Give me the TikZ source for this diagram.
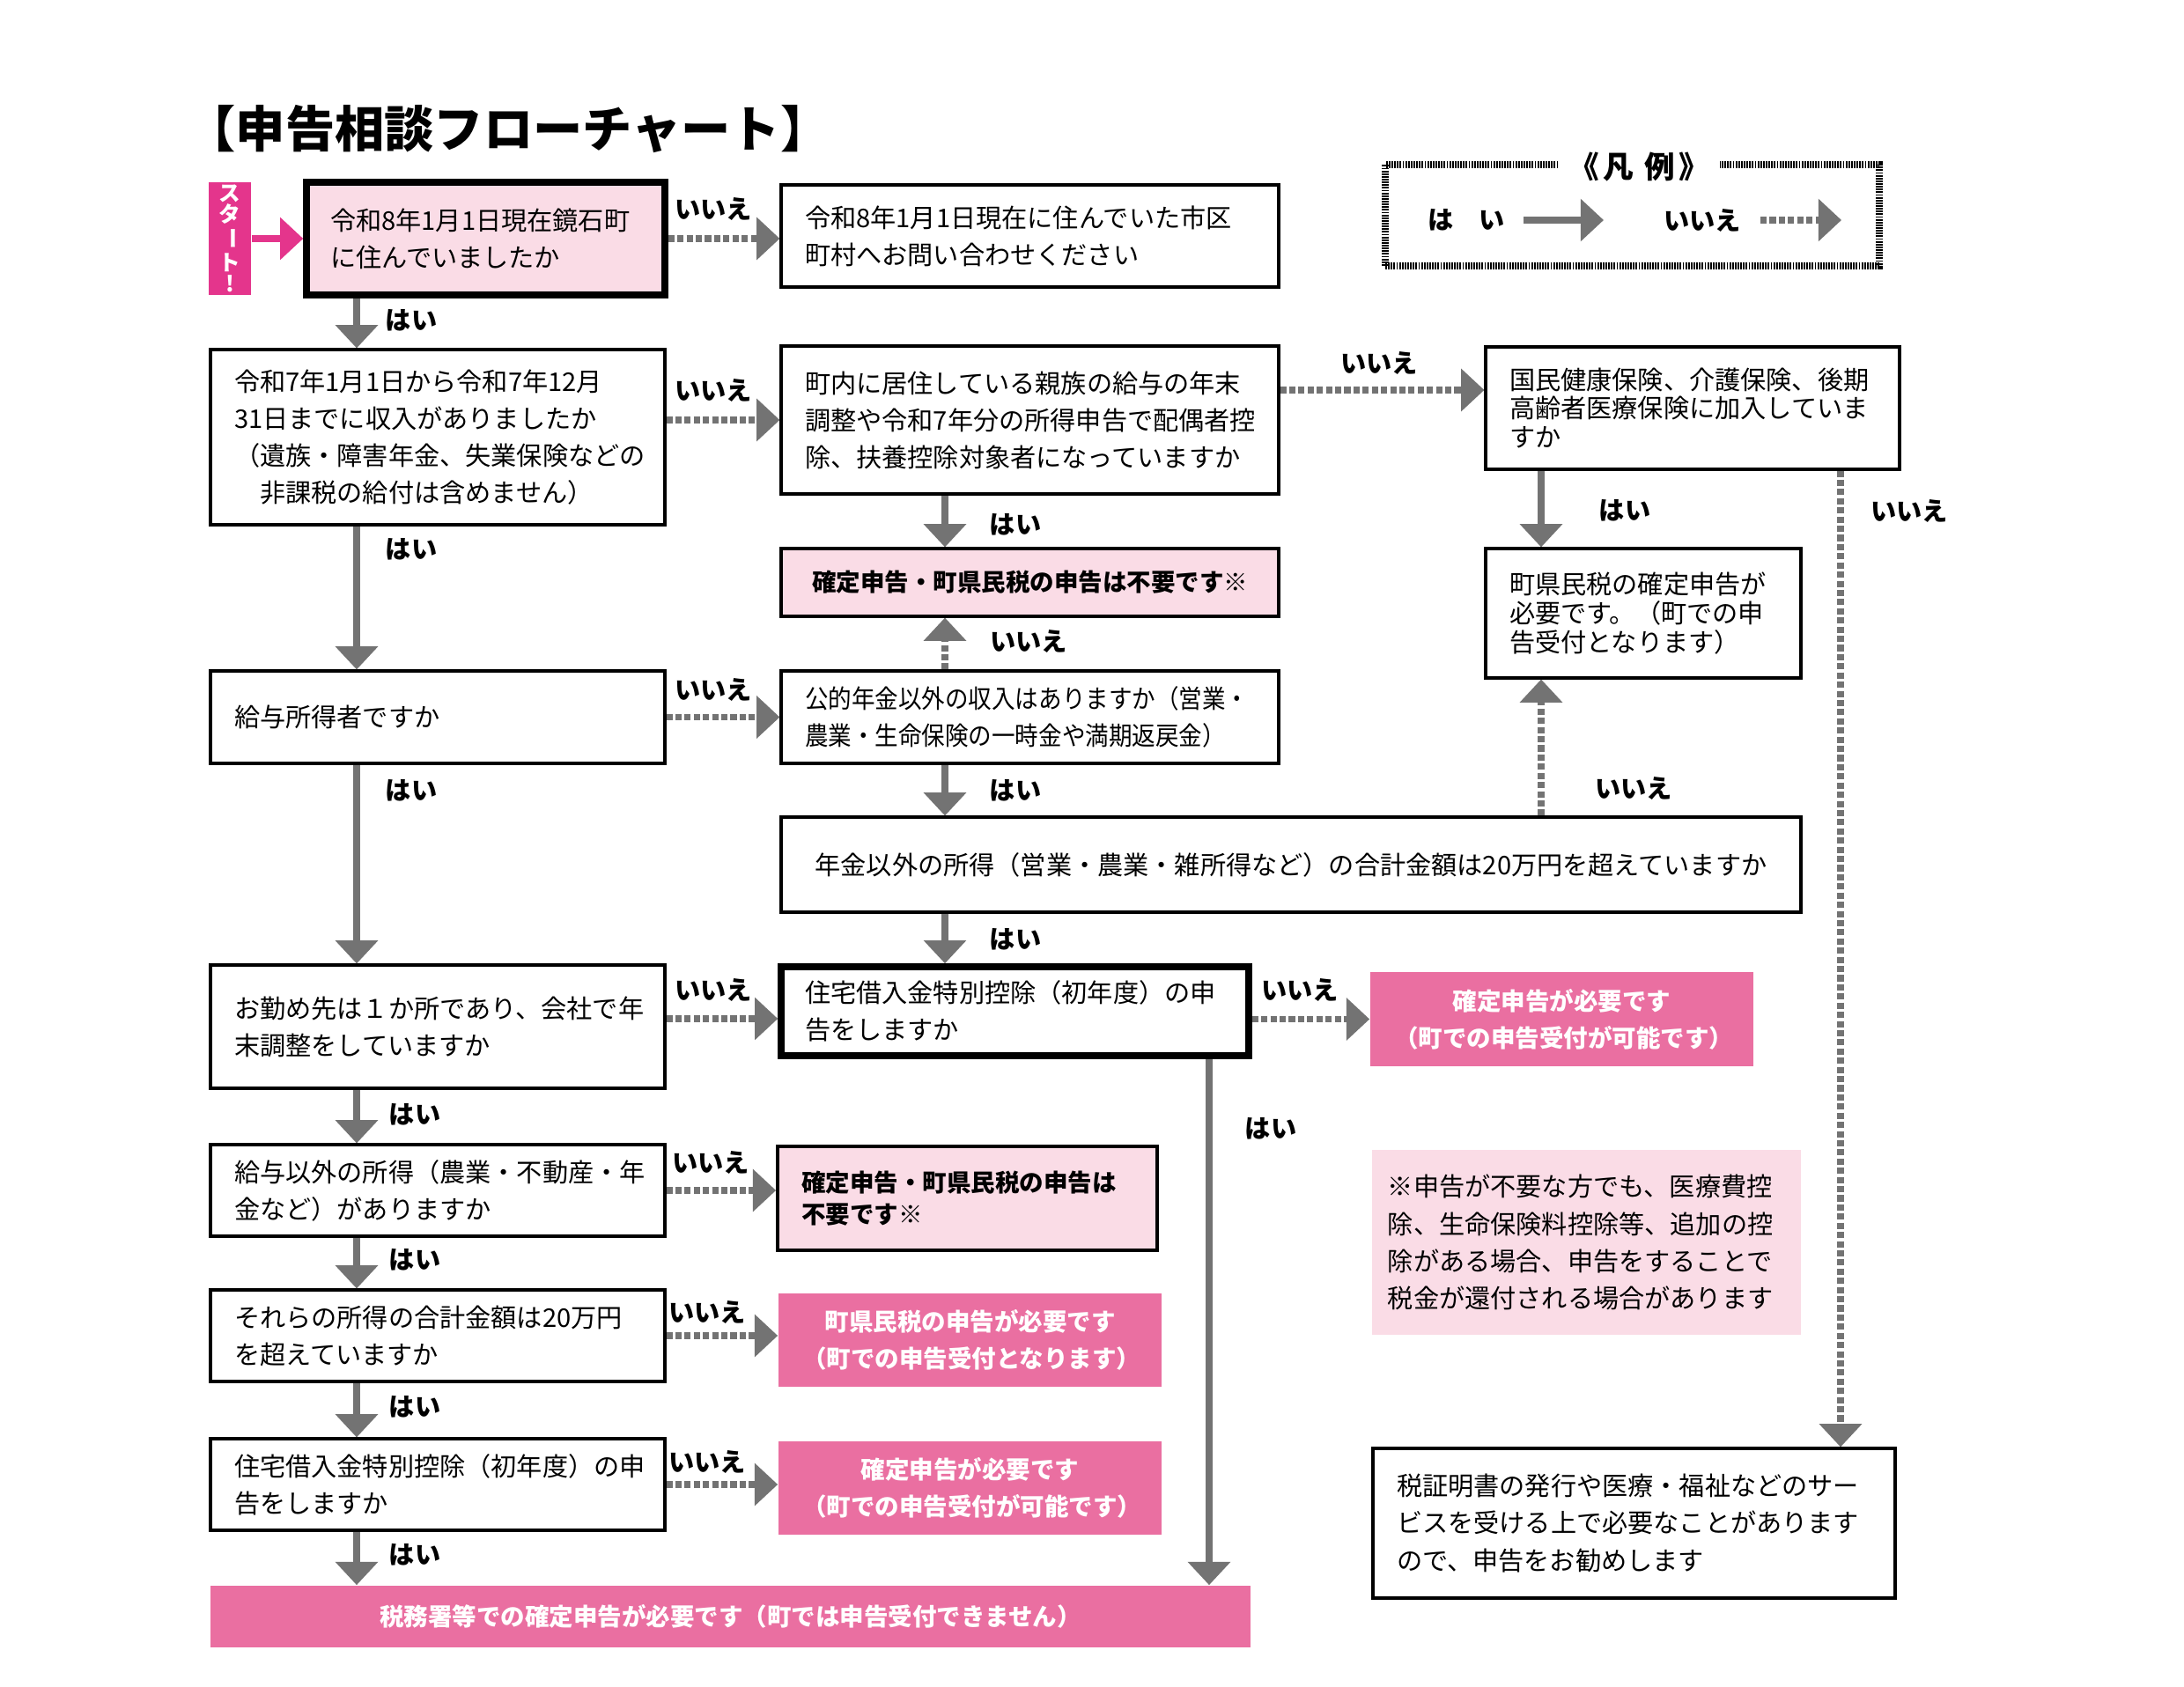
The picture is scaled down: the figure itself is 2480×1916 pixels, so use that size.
\documentclass[tikz,border=0pt]{standalone}
\usepackage{fontspec}
\usepackage{graphicx}
\setmainfont{Noto Sans CJK JP}
\newfontfamily\jpcond[FakeStretch=0.91]{Noto Sans CJK JP}
\usetikzlibrary{arrows.meta}
\definecolor{arrgray}{HTML}{737373}
\definecolor{lpink}{HTML}{FADCE6}
\definecolor{mpink}{HTML}{EA6FA1}
\definecolor{startmag}{HTML}{E4358C}
\newcommand\bx[7]{%
  \pgfmathsetmacro\bxcx{(#2+#4)/2}%
  \pgfmathsetmacro\bxcy{(#3+#5)/2}%
  \pgfmathsetmacro\bxw{(#4-#2)*0.24}%
  \pgfmathsetmacro\bxh{(#5-#3)*0.24}%
  \pgfmathsetmacro\bxtw{\bxw-13}%
  \pgfmathsetmacro\bxtwn{\bxw-8.6}%
  \node[#6, minimum width=\bxw pt, minimum height=\bxh pt] (#1) at (\bxcx,\bxcy) {#7};}
\begin{document}
\begin{tikzpicture}[x=0.24pt,y=-0.24pt,
  box/.style={draw=black, line width=0.75pt, inner xsep=6.5pt, inner ysep=0pt,
    align=left, text width=\bxtw pt, font=\fontsize{7}{10.1}\selectfont},
  tightbox/.style={box, font=\fontsize{7}{7.9}\selectfont},
  cbox/.style={box, align=center},
  thickbox/.style={box, line width=1.8pt},
  magbox/.style={fill=mpink, draw=none, text=white, align=center, inner sep=0pt,
    text width=\bxtw pt, font=\bfseries\fontsize{6.6}{10.08}\selectfont},
  lab/.style={inner sep=0pt, font=\bfseries\fontsize{7}{8}\selectfont},
  arY/.style={draw=arrgray, line width=1.7pt, -{Triangle[width=11.3pt,length=6.3pt]}},
  arN/.style={arY, dash pattern=on 1.7pt off 0.8pt},
  arS/.style={draw=startmag, line width=1.7pt, -{Triangle[width=11.3pt,length=6.3pt]}},
  lgborder/.style={draw=black, line width=1.7pt, dash pattern=on 0.45pt off 0.3pt, inner sep=0pt}
]
\fill[white] (0,0) rectangle (2480,1916);
\useasboundingbox (0,0) rectangle (2480,1916);

% title
\node[inner sep=0pt, font=\bfseries\fontsize{13.5}{15}\selectfont] (title) at (577,147) {【申告相談フローチャート】};

% legend
\bx{legend}{1573}{187}{2134}{302}{lgborder}{}
\node[fill=white, inner xsep=3pt, inner ysep=1pt, font=\bfseries\fontsize{8.3}{9}\selectfont] (lgt) at (1861,190) {《\kern1pt 凡\kern3pt 例\kern1pt 》};
\node[lab] (lgy) at (1665,250) {は　い};
\node[lab] (lgn) at (1933,250) {いいえ};
\coordinate (lya) at (1730,250); \coordinate (lyb) at (1821,250);
\coordinate (lna) at (1999,250); \coordinate (lnb) at (2091,250);
\draw[arY] (lya) -- (lyb);
\draw[arN] (lna) -- (lnb);

% start
\bx{start}{237}{207}{285}{335}{fill=startmag, text=white, align=center, inner sep=0pt, font=\bfseries\fontsize{5.9}{5.8}\selectfont}{ス\\タ\\\rotatebox[origin=c]{-90}{ー}\\ト\\!}

% boxes
\bx{b1}{348}{207}{755}{335}{thickbox, fill=lpink}{令和8年1月1日現在鏡石町\\に住んでいましたか}
\bx{b2}{887}{210}{1452}{326}{box}{令和8年1月1日現在に住んでいた市区\\町村へお問い合わせください}
\bx{b3}{239}{397}{755}{596}{box}{令和7年1月1日から令和7年12月\\31日までに収入がありましたか\\（遺族・障害年金、失業保険などの\\　非課税の給付は含めません）}
\bx{b4}{887}{393}{1452}{561}{box}{町内に居住している親族の給与の年末\\調整や令和7年分の所得申告で配偶者控\\除、扶養控除対象者になっていますか}
\bx{b5}{887}{623}{1452}{700}{box, fill=lpink, align=center, font=\bfseries\fontsize{6.6}{10}\selectfont}{確定申告・町県民税の申告は不要です※}
\bx{b6}{1687}{394}{2157}{533}{tightbox}{国民健康保険、介護保険、後期\\高齢者医療保険に加入していま\\すか}
\bx{b7}{1687}{623}{2045}{770}{tightbox}{町県民税の確定申告が\\必要です。（町での申\\告受付となります）}
\bx{b8}{239}{762}{755}{867}{box}{給与所得者ですか}
\bx{b9}{887}{762}{1452}{867}{box, font=\jpcond\fontsize{7}{10.1}\selectfont}{公的年金以外の収入はありますか（営業・\\農業・生命保険の一時金や満期返戻金）}
\bx{b10}{887}{928}{2045}{1036}{cbox}{年金以外の所得（営業・農業・雑所得など）の合計金額は20万円を超えていますか}
\bx{b11}{887}{1098}{1418}{1199}{thickbox}{住宅借入金特別控除（初年度）の申\\告をしますか}
\bx{b12}{239}{1096}{755}{1236}{box}{お勤め先は１か所であり、会社で年\\末調整をしていますか}
\bx{b13}{1556}{1104}{1991}{1211}{magbox}{確定申告が必要です\\（町での申告受付が可能です）}
\bx{b14}{239}{1300}{755}{1404}{box}{給与以外の所得（農業・不動産・年\\金など）がありますか}
\bx{b15}{883}{1302}{1314}{1420}{box, line width=0.9pt, fill=lpink, font=\bfseries\fontsize{6.6}{8.6}\selectfont}{確定申告・町県民税の申告は\\不要です※}
\bx{b16}{239}{1465}{755}{1569}{box}{それらの所得の合計金額は20万円\\を超えていますか}
\bx{b17}{884}{1469}{1319}{1575}{magbox}{町県民税の申告が必要です\\（町での申告受付となります）}
\bx{b18}{239}{1634}{755}{1738}{box}{住宅借入金特別控除（初年度）の申\\告をしますか}
\bx{b19}{884}{1637}{1319}{1743}{magbox}{確定申告が必要です\\（町での申告受付が可能です）}
\bx{b20}{239}{1801}{1420}{1871}{magbox}{税務署等での確定申告が必要です（町では申告受付できません）}
\bx{note}{1558}{1306}{2045}{1516}{fill=lpink, inner xsep=4.3pt, inner ysep=0pt, align=left, text width=\bxtwn pt, font=\fontsize{7}{10.1}\selectfont}{※申告が不要な方でも、医療費控\\除、生命保険料控除等、追加の控\\除がある場合、申告をすることで\\税金が還付される場合があります}
\bx{b21}{1559}{1645}{2152}{1815}{box}{税証明書の発行や医療・福祉などのサー\\ビスを受ける上で必要なことがあります\\ので、申告をお勧めします}

% helper coordinates
\coordinate (xL) at (405,0);
\coordinate (xM) at (1073,0);
\coordinate (xR) at (1750,0);
\coordinate (xD) at (2090,0);
\coordinate (xS) at (1373,0);
\coordinate (y6) at (0,443);
\coordinate (y12) at (0,1157);

% connectors
\draw[arS] (start) -- (b1);
\draw[arN] (b1.east) -- (b1.east -| b2.west);
\draw[arY] (b1.south -| xL) -- (b3.north -| xL);
\draw[arN] (b4.west -| b3.east) -- (b4.west);
\draw[arY] (b3.south -| xL) -- (b8.north -| xL);
\draw[arN] (b4.east |- y6) -- (b6.west |- y6);
\draw[arY] (b4.south -| xM) -- (b5.north -| xM);
\draw[arY] (b6.south -| xR) -- (b7.north -| xR);
\draw[arN] (b6.south -| xD) -- (b21.north -| xD);
\draw[arN] (b8.east) -- (b8.east -| b9.west);
\draw[arN] (b9.north -| xM) -- (b5.south -| xM);
\draw[arY] (b9.south -| xM) -- (b10.north -| xM);
\draw[arN] (b10.north -| xR) -- (b7.south -| xR);
\draw[arY] (b10.south -| xM) -- (b11.north -| xM);
\draw[arY] (b8.south -| xL) -- (b12.north -| xL);
\draw[arN] (b12.east |- y12) -- (b11.west |- y12);
\draw[arN] (b13.west -| b11.east) -- (b13.west);
\draw[arY] (b11.south -| xS) -- (b20.north -| xS);
\draw[arY] (b12.south -| xL) -- (b14.north -| xL);
\draw[arN] (b14.east) -- (b14.east -| b15.west);
\draw[arY] (b14.south -| xL) -- (b16.north -| xL);
\draw[arN] (b16.east) -- (b16.east -| b17.west);
\draw[arY] (b16.south -| xL) -- (b18.north -| xL);
\draw[arN] (b18.east) -- (b18.east -| b19.west);
\draw[arY] (b18.south -| xL) -- (b20.north -| xL);

% labels
\node[lab] (n1) at (810,237) {いいえ};
\node[lab] (y1) at (467,364) {はい};
\node[lab] (n2) at (810,443) {いいえ};
\node[lab] (y2) at (467,624) {はい};
\node[lab] (n3) at (1566,412) {いいえ};
\node[lab] (y3) at (1153,596) {はい};
\node[lab] (y4) at (1845,580) {はい};
\node[lab] (n4) at (2168,580) {いいえ};
\node[lab] (n5) at (810,783) {いいえ};
\node[lab] (n6) at (1168,728) {いいえ};
\node[lab] (y5) at (1153,898) {はい};
\node[lab] (y6l) at (467,898) {はい};
\node[lab] (n7) at (1855,895) {いいえ};
\node[lab] (y7) at (1153,1067) {はい};
\node[lab] (n8) at (810,1124) {いいえ};
\node[lab] (n9) at (1476,1124) {いいえ};
\node[lab] (y8) at (1443,1282) {はい};
\node[lab] (y9) at (471,1266) {はい};
\node[lab] (n10) at (807,1320) {いいえ};
\node[lab] (y10) at (471,1431) {はい};
\node[lab] (n11) at (803,1490) {いいえ};
\node[lab] (y11) at (471,1598) {はい};
\node[lab] (n12) at (803,1660) {いいえ};
\node[lab] (y12l) at (471,1766) {はい};
\end{tikzpicture}
\end{document}
